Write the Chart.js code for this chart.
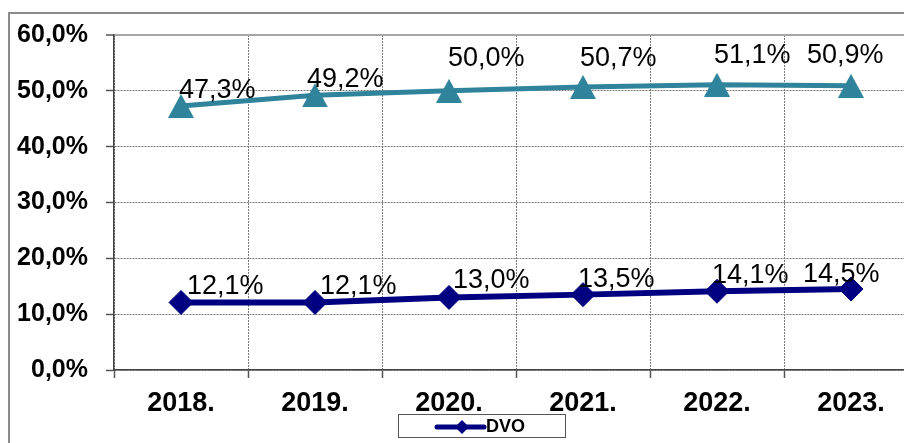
<!DOCTYPE html>
<html>
<head>
<meta charset="utf-8">
<script src="https://cdn.jsdelivr.net/npm/chart.js@4/dist/chart.umd.min.js"></script>
<style>
html,body{margin:0;padding:0;background:#fff;overflow:hidden;width:904px;height:443px;}
canvas{display:block;}
</style>
</head>
<body>
<canvas id="c" width="960" height="443"></canvas>
<script>
// ---- data ----
const years = ['2018.', '2019.', '2020.', '2021.', '2022.', '2023.'];
const dvoValues = [12.1, 12.1, 13.0, 13.5, 14.1, 14.5];
const upperValues = [47.3, 49.2, 50.0, 50.7, 51.1, 50.9];
const yMin = 0, yMax = 60, yStep = 10;

const fmt = v => v.toFixed(1).replace('.', ',') + '%';

const TEAL = '#2F839A';
const NAVY = '#000080';
const FONT = "'Liberation Sans', Arial, sans-serif";

function triangleImage(color, w, h) {
  const c = document.createElement('canvas');
  c.width = w; c.height = h;
  const g = c.getContext('2d');
  g.fillStyle = color;
  g.beginPath();
  g.moveTo(w / 2, 0);
  g.lineTo(w, h);
  g.lineTo(0, h);
  g.closePath();
  g.fill();
  return c;
}

// label offsets (style only): [dx from point x to label left, dy from point y to label middle]
const labelOffsets = {
  0: [[6, -16], [5, -16], [4, -17], [-5, -15], [-5, -16], [-48, -14]],
  1: [[-2, -15], [-8, -16], [-1, -32], [-3, -28], [-3, -29], [-44, -30]]
};

const labelPlugin = {
  id: 'pointLabels',
  afterDatasetsDraw(chart) {
    const ctx = chart.ctx;
    ctx.save();
    ctx.font = '27px ' + FONT;
    ctx.fillStyle = '#000';
    ctx.textAlign = 'left';
    ctx.textBaseline = 'middle';
    chart.data.datasets.forEach((ds, di) => {
      const meta = chart.getDatasetMeta(di);
      meta.data.forEach((pt, i) => {
        const off = labelOffsets[di][i];
        ctx.fillText(fmt(ds.data[i]), pt.x + off[0], pt.y + off[1]);
      });
    });
    ctx.restore();
  }
};

const framePlugin = {
  id: 'frame',
  beforeDraw(chart) {
    const ctx = chart.ctx;
    ctx.save();
    ctx.fillStyle = '#fff';
    ctx.fillRect(0, 0, chart.width, chart.height);
    ctx.strokeStyle = '#8c8c8c';
    ctx.lineWidth = 2;
    ctx.strokeRect(9, 13, 2000, 2000);
    ctx.restore();
  },
  afterDraw(chart) {
    const ctx = chart.ctx;
    ctx.save();
    // legend box
    ctx.fillStyle = '#fff';
    ctx.fillRect(398, 415, 167, 23);
    ctx.strokeStyle = '#555';
    ctx.lineWidth = 1;
    ctx.strokeRect(398.5, 414.5, 167, 23);
    // legend line + marker
    ctx.strokeStyle = NAVY;
    ctx.lineWidth = 5;
    ctx.lineCap = 'round';
    ctx.beginPath();
    ctx.moveTo(437, 427);
    ctx.lineTo(484, 427);
    ctx.stroke();
    ctx.fillStyle = NAVY;
    ctx.beginPath();
    ctx.moveTo(462, 420); ctx.lineTo(469, 427); ctx.lineTo(462, 434); ctx.lineTo(455, 427);
    ctx.closePath();
    ctx.fill();
    ctx.fillStyle = '#000';
    ctx.font = 'bold 18px ' + FONT;
    ctx.textAlign = 'left';
    ctx.textBaseline = 'middle';
    ctx.fillText('DVO', 486, 427);
    ctx.restore();
  }
};

new Chart(document.getElementById('c'), {
  type: 'line',
  data: {
    labels: years,
    datasets: [
      {
        label: 'DVO',
        data: dvoValues,
        borderColor: NAVY,
        backgroundColor: NAVY,
        borderWidth: 6,
        tension: 0,
        pointStyle: 'rectRot',
        pointRadius: 12,
        pointBorderWidth: 1,
        pointBackgroundColor: NAVY,
        pointBorderColor: NAVY
      },
      {
        label: 'Serija 2',
        data: upperValues,
        borderColor: TEAL,
        backgroundColor: TEAL,
        borderWidth: 5,
        tension: 0,
        pointStyle: triangleImage(TEAL, 26, 24),
        pointRadius: 12
      }
    ]
  },
  options: {
    responsive: false,
    animation: false,
    devicePixelRatio: 1,
    layout: { padding: { top: 35, right: 42, left: 0, bottom: 0 } },
    plugins: { legend: { display: false }, tooltip: { enabled: false } },
    scales: {
      x: {
        offset: true,
        grid: {
          offset: true,
          color: '#7a7a7a',
          lineWidth: 1,
          tickLength: 8,
          tickColor: '#555',
          tickWidth: 1.5
        },
        border: { display: true, color: '#444', width: 1.5, dash: [2, 1] },
        ticks: {
          color: '#000',
          font: { family: FONT, size: 27, weight: 'bold' },
          padding: 9,
          maxRotation: 0
        },
        afterFit(scale) { scale.height = 73; }
      },
      y: {
        min: yMin,
        max: yMax,
        grid: {
          color: ctx => (ctx.tick && ctx.tick.value === yMax) ? '#a6a6a6' : '#7a7a7a',
          lineWidth: ctx => (ctx.tick && ctx.tick.value === yMax) ? 2 : 1,
          tickLength: 8,
          tickColor: '#555',
          tickWidth: 1.5
        },
        border: {
          display: true, color: '#444', width: 1.5,
          dash: ctx => (ctx.tick && ctx.tick.value === yMax) ? [] : [2, 1]
        },
        ticks: {
          stepSize: yStep,
          color: '#000',
          font: { family: FONT, size: 25, weight: 'bold' },
          padding: 18,
          callback: v => fmt(v)
        },
        afterFit(scale) { scale.width = 114; }
      }
    }
  },
  plugins: [framePlugin, labelPlugin]
});
</script>
</body>
</html>
